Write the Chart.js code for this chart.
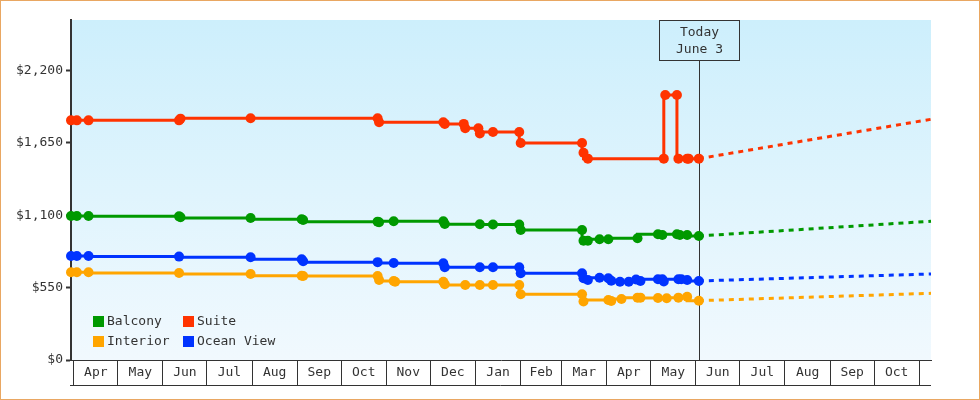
<!DOCTYPE html>
<html>
<head>
<meta charset="utf-8">
<title>Cabin price history</title>
<script src="https://cdn.jsdelivr.net/npm/chart.js@4/dist/chart.umd.min.js"></script>
<style>
  html, body { margin: 0; padding: 0; background: #fff; }
  #wrap { width: 978px; height: 398px; border: 1px solid #e9a762; }
  canvas { display: block; }
</style>
</head>
<body>
<div id="wrap"><canvas id="price-chart" width="978" height="398"></canvas></div>
<script>
// Price history per cabin type

const axisStart = '2022-03-30';
const axisEnd = '2023-11-09';
const today = '2023-06-03';
const todayText = ['Today', 'June 3'];

const monthStarts = ['2022-04-01', '2022-05-01', '2022-06-01', '2022-07-01', '2022-08-01', '2022-09-01',
    '2022-10-01', '2022-11-01', '2022-12-01', '2023-01-01', '2023-02-01', '2023-03-01', '2023-04-01',
    '2023-05-01', '2023-06-01', '2023-07-01', '2023-08-01', '2023-09-01', '2023-10-01', '2023-11-01'];
const monthLabels = ['Apr', 'May', 'Jun', 'Jul', 'Aug', 'Sep', 'Oct', 'Nov', 'Dec', 'Jan', 'Feb', 'Mar',
    'Apr', 'May', 'Jun', 'Jul', 'Aug', 'Sep', 'Oct'];

const priceTicks = [0, 550, 1100, 1650, 2200];

const balconyDates = ['2022-03-30', '2022-04-03', '2022-04-11', '2022-06-12', '2022-06-13', '2022-07-31',
    '2022-09-04', '2022-09-05', '2022-10-26', '2022-10-27', '2022-11-06', '2022-12-10', '2022-12-11',
    '2023-01-04', '2023-01-13', '2023-01-31', '2023-02-01', '2023-03-15', '2023-03-16', '2023-03-19',
    '2023-03-27', '2023-04-02', '2023-04-22', '2023-05-06', '2023-05-09', '2023-05-19', '2023-05-21',
    '2023-05-26', '2023-06-03'];
const balconyPrices = [1095, 1095, 1095, 1092, 1085, 1080, 1070, 1065, 1052, 1047, 1055, 1055, 1034,
    1032, 1030, 1030, 989, 989, 907, 907, 918, 918, 925, 956, 951, 956, 951, 951, 943];

const suiteDates = ['2022-03-30', '2022-04-03', '2022-04-11', '2022-06-12', '2022-06-13', '2022-07-31',
    '2022-10-26', '2022-10-27', '2022-12-10', '2022-12-11', '2022-12-24', '2022-12-25', '2023-01-03',
    '2023-01-04', '2023-01-13', '2023-01-31', '2023-02-01', '2023-03-15', '2023-03-16', '2023-03-19',
    '2023-05-10', '2023-05-11', '2023-05-19', '2023-05-20', '2023-05-26', '2023-05-27', '2023-06-03'];
const suitePrices = [1822, 1822, 1822, 1822, 1835, 1838, 1838, 1808, 1808, 1795, 1795, 1762, 1762,
    1722, 1733, 1733, 1650, 1650, 1576, 1531, 1531, 2015, 2015, 1531, 1531, 1531, 1531];

const interiorDates = ['2022-03-30', '2022-04-03', '2022-04-11', '2022-06-12', '2022-07-31', '2022-09-04',
    '2022-09-05', '2022-10-26', '2022-10-27', '2022-11-06', '2022-11-07', '2022-12-10', '2022-12-11',
    '2022-12-25', '2023-01-04', '2023-01-13', '2023-01-31', '2023-02-01', '2023-03-15', '2023-03-16',
    '2023-04-02', '2023-04-04', '2023-04-11', '2023-04-22', '2023-04-24', '2023-05-06', '2023-05-12',
    '2023-05-20', '2023-05-26', '2023-06-03'];
const interiorPrices = [667, 667, 667, 662, 654, 641, 639, 639, 608, 601, 595, 595, 576, 570, 570, 570,
    570, 500, 500, 445, 456, 449, 464, 474, 474, 472, 469, 474, 481, 451];

const oceanDates = ['2022-03-30', '2022-04-03', '2022-04-11', '2022-06-12', '2022-07-31', '2022-09-04',
    '2022-09-05', '2022-10-26', '2022-11-06', '2022-12-10', '2022-12-11', '2023-01-04', '2023-01-13',
    '2023-01-31', '2023-02-01', '2023-03-15', '2023-03-16', '2023-03-19', '2023-03-27', '2023-04-02',
    '2023-04-04', '2023-04-10', '2023-04-16', '2023-04-21', '2023-04-24', '2023-05-06', '2023-05-09',
    '2023-05-10', '2023-05-20', '2023-05-22', '2023-05-26', '2023-06-03'];
const oceanPrices = [791, 791, 791, 786, 781, 766, 751, 744, 737, 735, 705, 705, 705, 705, 660, 659, 621,
    608, 625, 621, 603, 595, 595, 612, 600, 614, 614, 597, 614, 614, 608, 601];

// forecast from today to the end of the axis
const projectionDates = ['2023-06-03', '2023-11-09'];
const balconyProjection = [943, 1055];
const suiteProjection = [1531, 1830];
const interiorProjection = [451, 507];
const oceanProjection = [601, 654];

const legendOrder = ['Balcony', 'Suite', 'Interior', 'Ocean View'];
const colors = {
    'Balcony': '#009900',
    'Suite': '#ff3300',
    'Interior': '#ffa500',
    'Ocean View': '#0033ff'
};

// day number counted from 1 Apr 2022
function dayOf(s) {
    return (Date.parse(s + 'T00:00:00Z') - Date.parse('2022-04-01T00:00:00Z')) / 86400000;
}

function toPoints(dates, prices) {
    return dates.map((d, i) => ({ x: dayOf(d), y: prices[i] }));
}

function historySet(label, dates, prices) {
    return {
        label: label,
        data: toPoints(dates, prices),
        borderColor: colors[label],
        backgroundColor: colors[label],
        borderWidth: 3,
        pointRadius: 5,
        pointHoverRadius: 5,
        pointBorderWidth: 0,
        stepped: 'after',
        clip: false
    };
}

function projectionSet(label, values) {
    return {
        label: label + ' forecast',
        data: toPoints(projectionDates, values),
        borderColor: colors[label],
        borderWidth: 3,
        borderDash: [5, 5],
        pointRadius: 0,
        tension: 0,
        clip: false
    };
}

// x ticks: month boundaries draw the box walls, mid-month ticks carry the names
const xTicks = [];
monthStarts.forEach((m, i) => {
    xTicks.push({ value: dayOf(m), edge: true, name: '' });
    if (i < monthLabels.length) {
        xTicks.push({ value: (dayOf(m) + dayOf(monthStarts[i + 1])) / 2, edge: false, name: monthLabels[i] });
    }
});

const plotBackground = {
    id: 'plotBackground',
    beforeDraw(chart) {
        const { ctx, chartArea: a } = chart;
        const g = ctx.createLinearGradient(0, a.top, 0, a.bottom);
        g.addColorStop(0, '#cdeffc');
        g.addColorStop(1, '#f1f9fe');
        ctx.save();
        ctx.fillStyle = g;
        ctx.fillRect(a.left, a.top, a.right - a.left, a.bottom - a.top);
        // bottom edge of the month boxes
        ctx.strokeStyle = '#333';
        ctx.lineWidth = 1;
        ctx.beginPath();
        ctx.moveTo(a.left - 1, a.bottom + 25.5);
        ctx.lineTo(a.right, a.bottom + 25.5);
        ctx.stroke();
        ctx.restore();
    }
};

const todayMarker = {
    id: 'todayMarker',
    beforeDatasetsDraw(chart) {
        const { ctx, chartArea: a } = chart;
        const x = Math.round(chart.scales.x.getPixelForValue(dayOf(today))) + 0.5;
        ctx.save();
        ctx.strokeStyle = '#333';
        ctx.lineWidth = 1;
        ctx.beginPath();
        ctx.moveTo(x, a.top + 40);
        ctx.lineTo(x, a.bottom);
        ctx.stroke();
        ctx.strokeRect(x - 40, a.top + 0.5, 80, 40);
        ctx.fillStyle = '#333';
        ctx.font = '13px "DejaVu Sans Mono", monospace';
        ctx.textAlign = 'center';
        ctx.textBaseline = 'middle';
        ctx.fillText(todayText[0], x, a.top + 13);
        ctx.fillText(todayText[1], x, a.top + 30);
        ctx.restore();
    }
};

const boxLegend = {
    id: 'boxLegend',
    afterDatasetsDraw(chart) {
        const { ctx, chartArea: a } = chart;
        ctx.save();
        ctx.font = '13px "DejaVu Sans Mono", monospace';
        ctx.textBaseline = 'middle';
        ctx.textAlign = 'left';
        legendOrder.forEach((name, i) => {
            const bx = a.left + 22 + (i % 2) * 90;
            const cy = a.bottom - 39 + Math.floor(i / 2) * 20;
            ctx.fillStyle = colors[name];
            ctx.fillRect(bx, cy - 5, 11, 11);
            ctx.fillStyle = '#333';
            ctx.fillText(name, bx + 14, cy + 1);
        });
        ctx.restore();
    }
};

Chart.defaults.font.family = '"DejaVu Sans Mono", monospace';
Chart.defaults.font.size = 13;
Chart.defaults.color = '#333';

new Chart(document.getElementById('price-chart'), {
    type: 'line',
    data: {
        datasets: [
            historySet('Suite', suiteDates, suitePrices),
            historySet('Balcony', balconyDates, balconyPrices),
            historySet('Ocean View', oceanDates, oceanPrices),
            historySet('Interior', interiorDates, interiorPrices),
            projectionSet('Suite', suiteProjection),
            projectionSet('Balcony', balconyProjection),
            projectionSet('Ocean View', oceanProjection),
            projectionSet('Interior', interiorProjection)
        ]
    },
    options: {
        responsive: false,
        animation: false,
        layout: { padding: { top: 19, right: 48, bottom: 0, left: 0 } },
        plugins: {
            legend: { display: false },
            tooltip: { enabled: false }
        },
        scales: {
            x: {
                type: 'linear',
                min: dayOf(axisStart),
                max: dayOf(axisEnd),
                afterBuildTicks: axis => { axis.ticks = xTicks.map(t => Object.assign({}, t)); },
                afterFit: axis => { axis.height = 39; },
                grid: {
                    drawOnChartArea: false,
                    tickLength: 25,
                    tickWidth: 1,
                    tickColor: ctx => (ctx.tick && ctx.tick.edge) ? '#333' : 'rgba(0,0,0,0)'
                },
                border: { display: true, color: '#333', width: 1 },
                ticks: {
                    autoSkip: false,
                    maxRotation: 0,
                    minRotation: 0,
                    padding: -20,
                    callback: (v, i, t) => t[i].name
                }
            },
            y: {
                min: 0,
                max: 2585,
                afterBuildTicks: axis => { axis.ticks = priceTicks.map(v => ({ value: v })); },
                afterFit: axis => { axis.width = 70; },
                grid: {
                    drawOnChartArea: false,
                    tickLength: 5,
                    tickWidth: 2,
                    tickColor: '#333'
                },
                border: { display: true, color: '#333', width: 2 },
                ticks: {
                    padding: 3,
                    callback: v => '$' + v.toLocaleString('en-US')
                }
            }
        }
    },
    plugins: [plotBackground, todayMarker, boxLegend]
});
</script>
</body>
</html>
